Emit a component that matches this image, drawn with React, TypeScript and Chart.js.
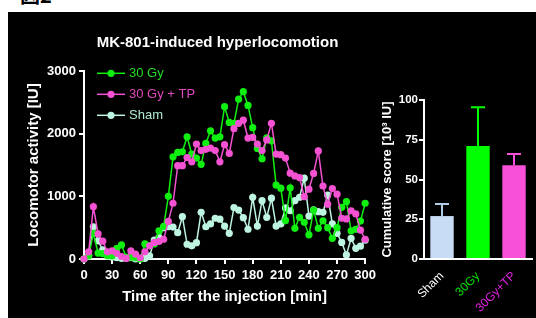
import React, { useEffect, useRef } from 'react';
import { Chart, registerables } from 'chart.js';

Chart.register(...registerables);

// ---------- Data ----------
const times = [
  0, 5, 10, 15, 20, 25, 30, 35, 40, 45, 50, 55, 60, 65, 70, 75, 80, 85, 90, 95,
  100, 105, 110, 115, 120, 125, 130, 135, 140, 145, 150, 155, 160, 165, 170, 175,
  180, 185, 190, 195, 200, 205, 210, 215, 220, 225, 230, 235, 240, 245, 250, 255,
  260, 265, 270, 275, 280, 285, 290, 295, 300,
];

const gy30 = [
  0, 50, 410, 95, 85, 50, 50, 170, 225, 30, 30, 20, 0, 240, 215, 240, 450, 520, 1000, 1630,
  1700, 1710, 1950, 1675, 1610, 1510, 1845, 2045, 1930, 1950, 2430, 2180, 2165, 2550, 2670, 2450,
  2095, 1765, 1600, 1935, 1885, 1180, 1130, 615, 1135, 490, 665, 585, 385, 780, 490, 610,
  500, 330, 500, 825, 915, 450, 475, 605, 890,
];

const gy30tp = [
  0, 115, 835, 400, 285, 115, 130, 90, 40, 10, 130, 80, 20, 115, 210, 265, 280, 315, 600, 890,
  1490, 1490, 1620, 1550, 1835, 1730, 1750, 1770, 1730, 1550, 1825, 1685, 2080, 2165, 2215, 1930,
  1940, 1835, 1730, 1900, 2165, 1675, 1665, 1610, 1370, 1325, 1300, 995, 1115, 1365, 1725, 1165,
  875, 1125, 1035, 650, 640, 770, 720, 460, 315,
];

const sham = [
  0, 60, 515, 290, 145, 60, 30, 20, 10, 10, 20, 0, 0, 10, 50, 300, 340, 500, 515, 510,
  420, 675, 235, 210, 260, 745, 515, 560, 650, 635, 525, 410, 820, 780, 660, 475,
  985, 525, 930, 665, 970, 525, 560, 815, 770, 930, 985, 1290, 685, 785, 755, 745,
  1020, 560, 410, 265, 65, 330, 170, 205, 300,
];

const xTickValues = [0, 30, 60, 90, 120, 150, 180, 210, 240, 270, 300];
const yTickValues = [0, 1000, 2000, 3000];

const chartTitle = 'MK-801-induced hyperlocomotion';
const legendLabels = ['30 Gy', '30 Gy + TP', 'Sham'];

const barLabels = ['Sham', '30Gy', '30Gy+TP'];
const barValues = [27, 71, 59];
const barErrors = [7.6, 24.4, 7];
const barTickValues = [0, 25, 50, 75, 100];

// ---------- Styles ----------
const FONT = "'Liberation Sans', Arial, Helvetica, sans-serif";
const GREEN = '#10f010';
const PINK = '#f452d2';
const SHAM = '#bdf5e0';
const legendColors = [GREEN, PINK, SHAM];
const legendTextColors = ['#22dd22', '#e048c0', '#aeeacf'];

const barColors = ['#c8dcf6', '#00ff00', '#f850d8'];
const errColors = ['#b0cce8', '#00ff00', '#f850d8'];
const barTickColors = ['#ffffff', '#00e000', '#e020e0'];

const titleLegendPlugin = {
  id: 'titleAndLegend',
  afterDraw(chart: any) {
    const { ctx, chartArea } = chart;
    ctx.save();
    // title
    ctx.fillStyle = '#ffffff';
    ctx.font = `bold 15px ${FONT}`;
    ctx.textBaseline = 'middle';
    ctx.textAlign = 'center';
    ctx.fillText(chartTitle, chartArea.left + 133.5, chartArea.top - 28);
    // legend
    legendLabels.forEach((label, i) => {
      const y = chartArea.top + 2.3 + i * 21;
      const x0 = chartArea.left + 13;
      ctx.strokeStyle = legendColors[i];
      ctx.lineWidth = 1.5;
      ctx.beginPath();
      ctx.moveTo(x0, y);
      ctx.lineTo(x0 + 28, y);
      ctx.stroke();
      ctx.fillStyle = legendColors[i];
      ctx.beginPath();
      ctx.arc(x0 + 14, y, 3.6, 0, Math.PI * 2);
      ctx.fill();
      ctx.fillStyle = legendTextColors[i];
      ctx.font = `13px ${FONT}`;
      ctx.textBaseline = 'middle';
      ctx.textAlign = 'left';
      ctx.fillText(label, x0 + 32, y + 0.5);
    });
    ctx.restore();
  },
};

const errorBarPlugin = {
  id: 'errorBars',
  afterDatasetsDraw(chart: any) {
    const meta = chart.getDatasetMeta(0);
    const yScale = chart.scales.y;
    const ctx = chart.ctx;
    ctx.save();
    meta.data.forEach((bar: any, i: number) => {
      const top = yScale.getPixelForValue(barValues[i] + barErrors[i]);
      ctx.strokeStyle = errColors[i];
      ctx.lineWidth = 2;
      ctx.beginPath();
      ctx.moveTo(bar.x, bar.y);
      ctx.lineTo(bar.x, top);
      ctx.moveTo(bar.x - 7, top);
      ctx.lineTo(bar.x + 7, top);
      ctx.stroke();
    });
    ctx.restore();
  },
};

function series(values: number[], color: string, label: string, order: number) {
  return {
    label,
    data: times.map((t, i) => ({ x: t, y: values[i] })),
    borderColor: color,
    backgroundColor: color,
    borderWidth: 1.5,
    pointRadius: 3.6,
    pointBorderWidth: 0,
    pointHoverRadius: 3.6,
    clip: false,
    order,
  };
}

export default function App() {
  const lineRef = useRef<HTMLCanvasElement>(null);
  const barRef = useRef<HTMLCanvasElement>(null);

  useEffect(() => {
    const axisFont = (size: number, weight: any = 'bold') => ({ family: FONT, size, weight });

    const lineChart = new Chart(lineRef.current as HTMLCanvasElement, {
      type: 'line',
      data: {
        datasets: [
          series(gy30, GREEN, '30 Gy', 1),
          series(gy30tp, PINK, '30 Gy + TP', 0),
          series(sham, SHAM, 'Sham', 2),
        ] as any,
      },
      options: {
        responsive: false,
        animation: false,
        layout: { padding: { left: 0, right: 11, top: 59, bottom: 0 } },
        plugins: {
          legend: { display: false },
          tooltip: { enabled: false },
          title: { display: false },
        },
        scales: {
          x: {
            type: 'linear',
            min: 0,
            max: 300,
            afterBuildTicks: (s: any) => {
              s.ticks = xTickValues.map((v) => ({ value: v }));
            },
            afterFit: (s: any) => {
              s.height = 59;
            },
            ticks: {
              color: '#ffffff',
              font: axisFont(13),
              padding: 4,
              maxRotation: 0,
              autoSkip: false,
              callback: (v: any) => String(v),
            },
            grid: { display: true, drawOnChartArea: false, color: '#ffffff', lineWidth: 2, tickLength: 5 },
            border: { display: true, color: '#ffffff', width: 2 },
            title: {
              display: true,
              text: 'Time after the injection [min]',
              color: '#ffffff',
              font: axisFont(15),
              padding: { top: 0, bottom: 12 },
            },
          },
          y: {
            type: 'linear',
            min: 0,
            max: 3000,
            afterBuildTicks: (s: any) => {
              s.ticks = yTickValues.map((v) => ({ value: v }));
            },
            afterFit: (s: any) => {
              s.width = 76;
            },
            ticks: { color: '#ffffff', font: axisFont(13), padding: 3, callback: (v: any) => String(v) },
            grid: { display: true, drawOnChartArea: false, color: '#ffffff', lineWidth: 2, tickLength: 5 },
            border: { display: true, color: '#ffffff', width: 2 },
            title: {
              display: true,
              text: 'Locomotor activity [IU]',
              color: '#ffffff',
              font: axisFont(15),
              padding: { top: 17, bottom: 0 },
            },
          },
        },
      } as any,
      plugins: [titleLegendPlugin],
    });

    const barChart = new Chart(barRef.current as HTMLCanvasElement, {
      type: 'bar',
      data: {
        labels: barLabels,
        datasets: [
          {
            data: barValues,
            backgroundColor: barColors,
            borderWidth: 0,
            barPercentage: 0.65,
            categoryPercentage: 1,
          },
        ],
      },
      options: {
        responsive: false,
        animation: false,
        layout: { padding: { left: 0, right: 4, top: 88, bottom: 0 } },
        plugins: {
          legend: { display: false },
          tooltip: { enabled: false },
        },
        scales: {
          x: {
            type: 'category',
            afterFit: (s: any) => {
              s.height = 59;
            },
            ticks: {
              color: (c: any) => barTickColors[c.index] || '#ffffff',
              font: { family: FONT, size: 12 },
              padding: 2,
              minRotation: 45,
              maxRotation: 45,
              autoSkip: false,
            },
            grid: { display: false },
            border: { display: true, color: '#ffffff', width: 2 },
          },
          y: {
            type: 'linear',
            min: 0,
            max: 100,
            afterBuildTicks: (s: any) => {
              s.ticks = barTickValues.map((v) => ({ value: v }));
            },
            afterFit: (s: any) => {
              s.width = 44;
            },
            ticks: { color: '#ffffff', font: axisFont(11.5), padding: 1 },
            grid: { display: true, drawOnChartArea: false, color: '#ffffff', lineWidth: 2, tickLength: 5 },
            border: { display: true, color: '#ffffff', width: 2 },
            title: {
              display: true,
              text: 'Cumulative score [10³ IU]',
              color: '#ffffff',
              font: axisFont(13),
              padding: { top: 0, bottom: 0 },
            },
          },
        },
      } as any,
      plugins: [errorBarPlugin],
    });

    return () => {
      lineChart.destroy();
      barChart.destroy();
    };
  }, []);

  return (
    <div style={{ position: 'fixed', left: 0, top: 0, width: 536, height: 318, background: '#ffffff', overflow: 'hidden' }}>
      <div
        style={{
          position: 'absolute',
          left: 20,
          top: -15,
          fontFamily: "'Noto Sans CJK JP', sans-serif",
          fontWeight: 'bold',
          fontSize: 20,
          lineHeight: '20px',
          color: '#000000',
          whiteSpace: 'nowrap',
        }}
      >
        図2
      </div>
      <div style={{ position: 'absolute', left: 8, top: 12, width: 528, height: 306, background: '#000000' }}>
        <canvas
          ref={lineRef}
          width={372}
          height={306}
          style={{ position: 'absolute', left: 0, top: 0, width: 372, height: 306 }}
        />
        <canvas
          ref={barRef}
          width={156}
          height={306}
          style={{ position: 'absolute', left: 372, top: 0, width: 156, height: 306 }}
        />
      </div>
    </div>
  );
}
